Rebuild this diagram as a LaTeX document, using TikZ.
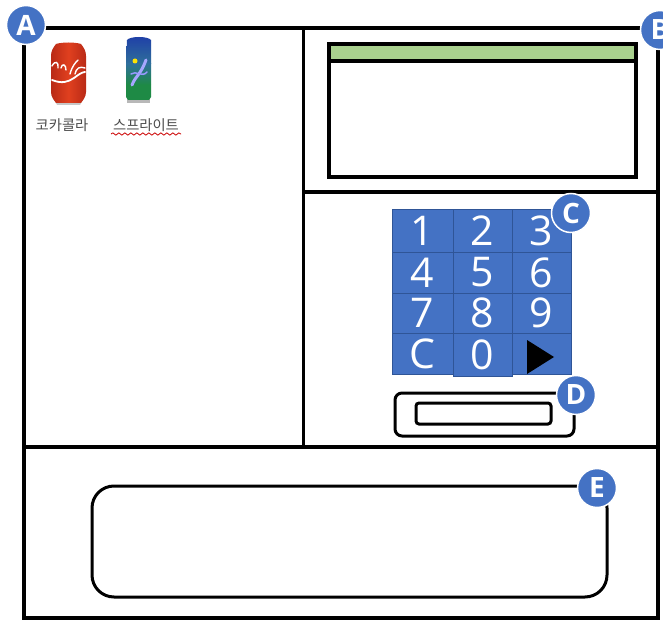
\documentclass[tikz,border=0pt]{standalone}
\usepackage{fontspec}
\setmainfont{Open Sans}
\newfontfamily\krfont{Noto Sans CJK KR}
\usetikzlibrary{decorations.pathmorphing}
\definecolor{badge}{HTML}{4472C4}
\definecolor{keyline}{HTML}{2F5597}
\definecolor{screenbar}{HTML}{A9D18E}
\definecolor{cokered}{HTML}{E0401F}
\definecolor{cokedark}{HTML}{B92A16}
\definecolor{spriteblue}{HTML}{1F3FA8}
\definecolor{spriteteal}{HTML}{2F6F9A}
\definecolor{spritegreen}{HTML}{1E8A45}
\tikzset{
  x=1pt,y=-1pt,
  frameline/.style={draw=black,line width=3.2pt},
  thinbox/.style={draw=black,line width=3pt,rounded corners=#1},
  keycell/.style={draw=keyline,line width=1pt,fill=badge,text=white,inner sep=0pt,font=\fontsize{41}{41}\selectfont},
  badgecircle/.style={circle,draw=white,line width=1.5pt,fill=badge,text=white,minimum size=39pt,inner sep=0pt,font=\bfseries\fontsize{28}{28}\selectfont},
  canlabel/.style={inner sep=0pt,text=black!70,font=\krfont\fontsize{14.3}{15}\selectfont}
}
\begin{document}
\begin{tikzpicture}
\useasboundingbox (0,0) rectangle (663,620);
\fill[white] (0,0) rectangle (663,620);
% frame
\draw[frameline] (24,28) rectangle (658,618);
\draw[frameline] (303.5,28) -- (303.5,447);
\draw[frameline] (303.5,192) -- (658,192);
\draw[frameline] (24,447) -- (658,447);
% screen
\fill[screenbar] (329,44) rectangle (636,61);
\draw[frameline] (329,44) rectangle (636,177);
\draw[frameline] (329,61) -- (636,61);
% coke can
\fill[black!22] (54,99) -- (83,99) -- (80,105) -- (57,105) -- cycle;
\shade[left color=cokedark,right color=cokedark,middle color=cokered] (56,44) .. controls (62,42) and (75,42) .. (81,44) .. controls (84,48) and (86,51) .. (86,56) -- (86,92) .. controls (86,97) and (83,100) .. (81,103) -- (56,103) .. controls (54,100) and (51,97) .. (51,92) -- (51,56) .. controls (51,51) and (53,48) .. (56,44) -- cycle;
\draw[white,line width=1.8pt,line cap=round] (52,80) .. controls (62,84) and (68,82) .. (74,78) .. controls (78,75) and (82,72) .. (85,72);
\draw[white,line width=1.4pt,line cap=round] (52,66) .. controls (55,60) and (59,62) .. (58,68) (61,68) .. controls (62,63) and (66,64) .. (66,70) (70,74) .. controls (72,66) and (76,62) .. (78,60) (75,74) .. controls (76,68) and (80,66) .. (85,68);
% sprite can
\fill[black!28] (127,98) rectangle (150,103);
\shade[top color=spriteblue,bottom color=spriteteal] (127,40) .. controls (130,36) and (148,36) .. (151,40) -- (151,64) -- (126,64) -- cycle;
\shade[top color=spriteteal,bottom color=spritegreen] (126,64) rectangle (151,85);
\fill[spritegreen] (126,85) -- (151,85) -- (151,97) -- (149,100) -- (128,100) -- (126,97) -- cycle;
\fill[yellow!85!orange] (135,61) circle (2.5);
\draw[white!65!blue,line width=3pt,line cap=round] (132,85) .. controls (136,75) and (140,76) .. (146,60);
\draw[white!60!blue,line width=1.5pt,line cap=round] (131,74) .. controls (136,70) and (142,78) .. (147,72);
% can labels
\node[canlabel] (cokelabel) at (62,125) {코카콜라};
\node[canlabel] (spritelabel) at (146,125) {스프라이트};
\draw[red!80!black,line width=0.8pt,decorate,decoration={snake,amplitude=1.1pt,segment length=6pt}] (111,134) -- (181,134);
% keypad
\node[keycell,minimum width=61pt,minimum height=41pt] (kc) at (422.5,353.5) {C};
\node[keycell,minimum width=59pt,minimum height=41pt] (kgo) at (541.5,353.5) {};
\node[keycell,minimum width=59pt,minimum height=43pt] (k0) at (482.5,354.5) {0};
\node[keycell,minimum width=61pt,minimum height=42pt] (k1) at (422.5,231) {1};
\node[keycell,minimum width=59pt,minimum height=42pt] (k2) at (482.5,231) {2};
\node[keycell,minimum width=59pt,minimum height=42pt] (k3) at (541.5,231) {3};
\node[keycell,minimum width=61pt,minimum height=41pt] (k4) at (422.5,272.5) {4};
\node[keycell,minimum width=59pt,minimum height=41pt] (k5) at (482.5,272.5) {5};
\node[keycell,minimum width=59pt,minimum height=41pt] (k6) at (541.5,272.5) {6};
\node[keycell,minimum width=61pt,minimum height=40pt] (k7) at (422.5,313) {7};
\node[keycell,minimum width=59pt,minimum height=40pt] (k8) at (482.5,313) {8};
\node[keycell,minimum width=59pt,minimum height=40pt] (k9) at (541.5,313) {9};
\fill[black] (527,340) -- (554,357) -- (527,374) -- cycle;
% slot
\draw[thinbox=7pt] (395,393) rectangle (574,436);
\draw[thinbox=3pt] (416,403) rectangle (551,424);
% tray
\draw[thinbox=22pt] (92,486) rectangle (607,597);
% badges
\node[badgecircle] (A) at (26,25) {A};
\node[badgecircle] (B) at (660,30) {B};
\node[badgecircle] (C) at (571,213) {C};
\node[badgecircle] (D) at (576,395) {D};
\node[badgecircle] (E) at (597,488) {E};
\end{tikzpicture}
\end{document}
